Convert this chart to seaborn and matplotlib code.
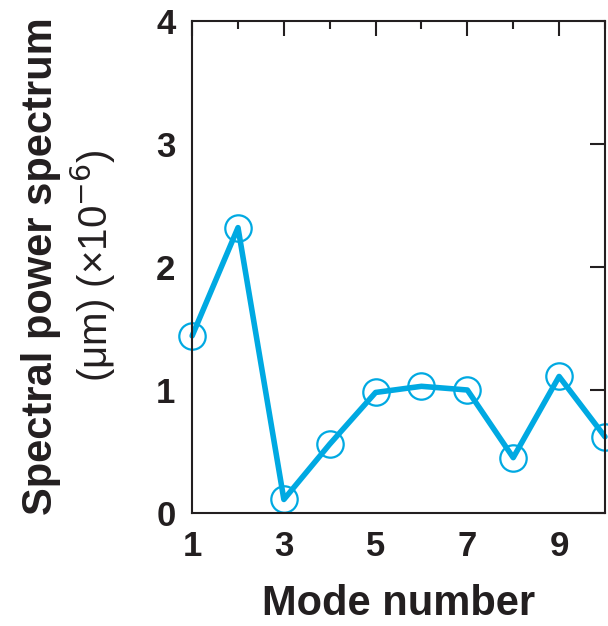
import matplotlib
matplotlib.use("Agg")
import matplotlib.pyplot as plt
import seaborn as sns
import pandas as pd
from matplotlib.ticker import MultipleLocator

sns.set_style("white")
plt.rcParams['font.family'] = ['Liberation Sans', 'DejaVu Sans']

mode = [1, 2, 3, 4, 5, 6, 7, 8, 9, 10]
power = [1.44, 2.32, 0.11, 0.56, 0.98, 1.03, 1.00, 0.45, 1.11, 0.62]
x_ticks = [1, 3, 5, 7, 9]
y_ticks = [0, 1, 2, 3, 4]

df = pd.DataFrame({"mode": mode, "power": power})
color = "#00A9E2"

fig = plt.figure(figsize=(6.08, 6.26), dpi=100)
ax = fig.add_axes([0.316, 0.1805, 0.679, 0.786])

sns.lineplot(data=df, x="mode", y="power", ax=ax, color=color, lw=4.0,
             marker="o", markersize=19, markerfacecolor="none",
             markeredgecolor=color, markeredgewidth=1.6, clip_on=False)

ax.set_xlim(1, 10)
ax.set_ylim(0, 4)
ax.set_xticks(x_ticks)
ax.xaxis.set_minor_locator(MultipleLocator(1))
ax.set_yticks(y_ticks)
ax.tick_params(axis="both", which="major", direction="in", length=11, width=1.5,
               top=True, right=True, labelsize=25, pad=12, colors="#231f20")
ax.tick_params(axis="both", which="minor", direction="in", length=6, width=1.5,
               top=True, right=True, colors="#231f20")
for lab in ax.get_xticklabels() + ax.get_yticklabels():
    lab.set_fontweight("bold")
for s in ax.spines.values():
    s.set_linewidth(1.5)
    s.set_color("#231f20")
    s.set_visible(True)

ax.set_xlabel("Mode number", fontsize=30, fontweight="bold", labelpad=15,
              color="#231f20")
ax.set_ylabel("")
fig.text(0.068, 0.575, "Spectral power spectrum", rotation=90, fontsize=30,
         fontweight="bold", ha="center", va="center", color="#231f20")
fig.text(0.154, 0.575, "(\u03bcm) (\u00d710$^{\u22126}$)", rotation=90, fontsize=29,
         ha="center", va="center", color="#231f20")

fig.savefig("out.png", dpi=100)
